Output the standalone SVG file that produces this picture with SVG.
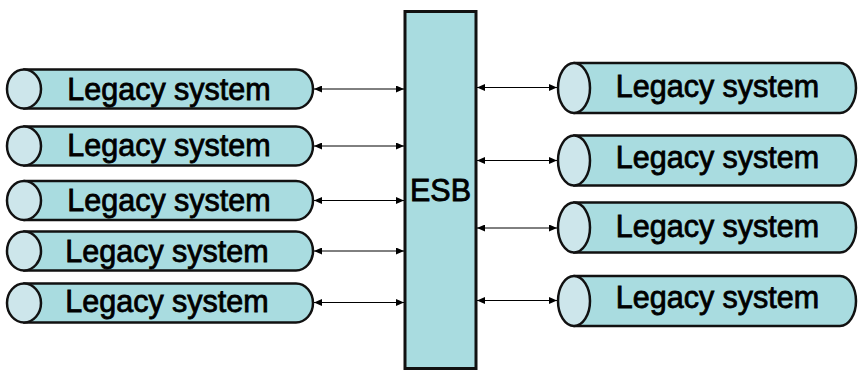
<svg xmlns="http://www.w3.org/2000/svg" width="858" height="373" viewBox="0 0 858 373">
  <defs>
    <marker id="arrow" viewBox="0 0 8 7" refX="8" refY="3.5" markerWidth="8" markerHeight="7" markerUnits="userSpaceOnUse" orient="auto-start-reverse">
      <path d="M0,0 L8,3.5 L0,7 z" fill="#000"/>
    </marker>
  </defs>
  <style>
    .body { fill: #A9DCE0; stroke: #111; stroke-width: 2.5; stroke-linejoin: round; }
    .cap { fill: #CDE6EB; stroke: #111; stroke-width: 2.5; }
    .label { font-family: "Liberation Sans", Arial, sans-serif; font-size: 30.5px; fill: #000; stroke: #000; stroke-width: 0.8; text-anchor: middle; }
    .link { stroke: #000; stroke-width: 1; fill: none; marker-start: url(#arrow); marker-end: url(#arrow); }
  </style>
  <rect width="858" height="373" fill="#fff"/>

  <!-- central bus -->
  <g id="esb">
    <rect x="405" y="11.5" width="71" height="357" fill="#A9DCE0" stroke="#111" stroke-width="3"/>
    <text class="label" x="440.5" y="201">ESB</text>
  </g>

  <!-- left-hand systems -->
  <g id="left1">
    <path class="body" d="M24 69.5 H296 A17 19.5 0 0 1 296 108.5 H24 Z"/>
    <ellipse class="cap" cx="24" cy="89" rx="17" ry="19.5"/>
    <text class="label" x="169" y="99.5">Legacy system</text>
  </g>
  <g id="left2">
    <path class="body" d="M24 126.5 H296 A17 19.5 0 0 1 296 165.5 H24 Z"/>
    <ellipse class="cap" cx="24" cy="146" rx="17" ry="19.5"/>
    <text class="label" x="169" y="156">Legacy system</text>
  </g>
  <g id="left3">
    <path class="body" d="M24 181 H296 A17 19.5 0 0 1 296 220 H24 Z"/>
    <ellipse class="cap" cx="24" cy="200.5" rx="17" ry="19.5"/>
    <text class="label" x="169" y="210.5">Legacy system</text>
  </g>
  <g id="left4">
    <path class="body" d="M24 231.5 H296 A17 19.5 0 0 1 296 270.5 H24 Z"/>
    <ellipse class="cap" cx="24" cy="251" rx="17" ry="19.5"/>
    <text class="label" x="167" y="261.5">Legacy system</text>
  </g>
  <g id="left5">
    <path class="body" d="M24 283.5 H296 A17 19.5 0 0 1 296 322.5 H24 Z"/>
    <ellipse class="cap" cx="24" cy="303" rx="17" ry="19.5"/>
    <text class="label" x="167" y="312">Legacy system</text>
  </g>

  <!-- right-hand systems -->
  <g id="right1">
    <path class="body" d="M574 63 H840 A16 25 0 0 1 840 113 H574 Z"/>
    <ellipse class="cap" cx="574" cy="88" rx="16" ry="25"/>
    <text class="label" x="717.5" y="97">Legacy system</text>
  </g>
  <g id="right2">
    <path class="body" d="M574 135.5 H840 A16 25 0 0 1 840 185.5 H574 Z"/>
    <ellipse class="cap" cx="574" cy="160.5" rx="16" ry="25"/>
    <text class="label" x="717.5" y="168">Legacy system</text>
  </g>
  <g id="right3">
    <path class="body" d="M574 202.5 H840 A16 25 0 0 1 840 252.5 H574 Z"/>
    <ellipse class="cap" cx="574" cy="227.5" rx="16" ry="25"/>
    <text class="label" x="717.5" y="237">Legacy system</text>
  </g>
  <g id="right4">
    <path class="body" d="M574 276 H840 A16 25 0 0 1 840 326 H574 Z"/>
    <ellipse class="cap" cx="574" cy="301" rx="16" ry="25"/>
    <text class="label" x="717.5" y="308">Legacy system</text>
  </g>

  <!-- two-way links to the bus -->
  <g id="connectors">
    <line class="link" x1="314" y1="89" x2="404" y2="89"/>
    <line class="link" x1="314" y1="146" x2="404" y2="146"/>
    <line class="link" x1="314" y1="200.5" x2="404" y2="200.5"/>
    <line class="link" x1="314" y1="251" x2="404" y2="251"/>
    <line class="link" x1="314" y1="302.5" x2="404" y2="302.5"/>
    <line class="link" x1="477" y1="87.5" x2="557" y2="87.5"/>
    <line class="link" x1="477" y1="160.5" x2="557" y2="160.5"/>
    <line class="link" x1="477" y1="228" x2="557" y2="228"/>
    <line class="link" x1="477" y1="300.5" x2="557" y2="300.5"/>
  </g>
</svg>
